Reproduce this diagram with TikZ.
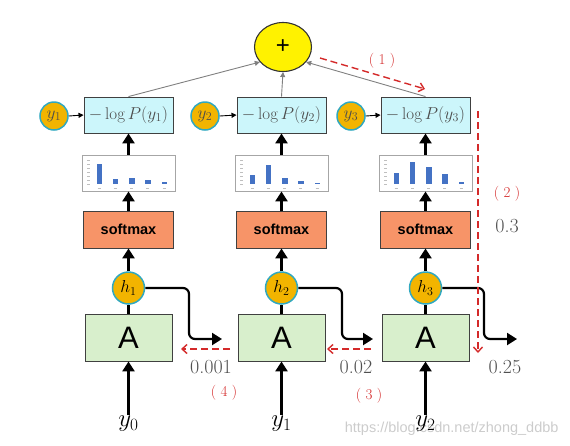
\documentclass[tikz,border=0pt]{standalone}
\usepackage{fontspec}
\newfontfamily\arialfont{Liberation Sans}
\usetikzlibrary{arrows.meta,shapes.geometric}
\definecolor{losscol}{HTML}{CCF6FB}
\definecolor{softcol}{HTML}{F79468}
\definecolor{acol}{HTML}{D8EFCC}
\definecolor{hfill}{HTML}{F2B400}
\definecolor{hborder}{HTML}{30A8C0}
\definecolor{barblue}{HTML}{4472C4}
\definecolor{darkred}{HTML}{D42A2A}
\definecolor{numcol}{HTML}{505050}
\begin{document}
\begin{tikzpicture}[x=1pt,y=-1pt,
  lossbox/.style={draw=black!75,fill=losscol,line width=0.9pt,minimum width=89pt,minimum height=36pt,inner sep=0pt,font=\fontsize{17}{19}\selectfont,text=black!70},
  softbox/.style={draw=black!75,fill=softcol,line width=0.9pt,minimum width=90pt,minimum height=37pt,inner sep=0pt,font=\arialfont\bfseries\fontsize{14.5}{16}\selectfont},
  abox/.style={draw=black!75,fill=acol,line width=0.9pt,minimum width=87pt,minimum height=47pt,inner sep=0pt,font=\arialfont\fontsize{31}{33}\selectfont},
  chartbox/.style={draw=black!35,fill=white,line width=0.9pt,minimum width=93pt,minimum height=36pt,inner sep=0pt},
  hcirc/.style={circle,draw=hborder,fill=hfill,line width=1.5pt,minimum size=32pt,inner sep=0pt,font=\fontsize{17}{19}\selectfont},
  ycirc/.style={circle,draw=hborder,fill=hfill,line width=1.5pt,minimum size=28pt,inner sep=0pt,font=\fontsize{17}{19}\selectfont,text=black!70},
  plusnode/.style={ellipse,draw=black!80,fill=yellow,line width=1.1pt,minimum width=57pt,minimum height=49pt,inner sep=0pt,font=\arialfont\fontsize{24}{26}\selectfont},
  bigarrow/.style={line width=2.6pt,-{Triangle[width=12pt,length=10pt]}},
  recarrow/.style={line width=2.2pt,rounded corners=6pt,-{Triangle[width=12pt,length=10pt]}},
  thinarrow/.style={draw=black!50,line width=0.9pt,-{Triangle[width=5pt,length=5pt]}},
  yarrow/.style={line width=0.9pt,-{Triangle[width=5pt,length=5pt]}},
  reddash/.style={draw=darkred,line width=1.4pt,dash pattern=on 7pt off 4pt,-{Straight Barb[length=5pt,width=9pt]}},
  numlabel/.style={text=numcol,font=\fontsize{20}{22}\selectfont},
  redlabel/.style={text=darkred,font=\fontsize{15}{17}\selectfont},
  ylabel/.style={font=\fontsize{27}{29}\selectfont,inner sep=1pt}
]
\useasboundingbox (0,0) rectangle (570,445);

% watermark
\node[text=black!20,font=\arialfont\fontsize{14.5}{16}\selectfont,anchor=east] (wm) at (562,429) {https://blog.csdn.net/zhong\_ddbb};

% plus
\node[plusnode] (plus) at (283,47) {+};

% loss boxes
\node[lossbox] (l1) at (128.5,115) {$-\log P(y_1)$};
\node[lossbox] (l2) at (281.5,115) {$-\log P(y_2)$};
\node[lossbox] (l3) at (425.5,115) {$-\log P(y_3)$};

% y circles
\node[ycirc] (yc1) at (54,116) {$y_1$};
\node[ycirc] (yc2) at (205,116) {$y_2$};
\node[ycirc] (yc3) at (351,116) {$y_3$};

% charts
\node[chartbox] (ch1) at (128.5,173) {};
\node[chartbox] (ch2) at (281.5,173) {};
\node[chartbox] (ch3) at (425.5,173) {};

% bars
\foreach \cx/\hs in {128.5/{20,5,6,4,2}, 281.5/{9,19,6,3.5,1.5}, 425.5/{11,22,17,10,2}}{
  \foreach \h [count=\i from 0] in \hs {
    \fill[barblue] (\cx-46.5+14.5+16.3*\i,184) rectangle ++(5.5,-\h);
    \draw[black!25,line width=0.4pt] (\cx-46.5+15.5+16.3*\i,188.5) -- ++(3,0);
  }
  \foreach \yy in {160,164,168,172,176,180,184}{
    \draw[black!25,line width=0.4pt] (\cx-46.5+5,\yy) -- ++(2.5,0);
  }
}

% softmax
\node[softbox] (s1) at (128.5,229.5) {softmax};
\node[softbox] (s2) at (281.5,229.5) {softmax};
\node[softbox] (s3) at (425.5,229.5) {softmax};

% h circles
\node[hcirc] (h1) at (128.5,288) {$h_1$};
\node[hcirc] (h2) at (281.5,288) {$h_2$};
\node[hcirc] (h3) at (425.5,288) {$h_3$};

% A boxes
\node[abox] (a1) at (128.5,337.5) {A};
\node[abox] (a2) at (281.5,337.5) {A};
\node[abox] (a3) at (425.5,337.5) {A};

% input labels
\node[ylabel] (y0) at (128.5,424) {$y_0$};
\node[ylabel] (y1) at (281.5,424) {$y_1$};
\node[ylabel] (y2) at (425.5,424) {$y_2$};

% vertical arrows
\foreach \i in {1,2,3}{
  \draw[bigarrow] (y\the\numexpr\i-1\relax.north) -- (a\i.south);
  \draw[line width=2.6pt] (a\i.north) -- (h\i.south);
  \draw[bigarrow] (h\i.north) -- (s\i.south);
  \draw[bigarrow] (s\i.north) -- (ch\i.south);
  \draw[bigarrow] (ch\i.north) -- (l\i.south);
  \draw[yarrow] (yc\i.east) -- (l\i.west);
}

% loss to plus
\draw[thinarrow] (l1.north) -- (plus.213);
\draw[thinarrow] (l2.north) -- (plus.south);
\draw[thinarrow] (l3.north) -- (plus.327);

% recurrent arrows
\coordinate (e1) at (222,339);
\coordinate (e2) at (373,339);
\coordinate (e3) at (517,339);
\draw[recarrow] (h1.east) -- (189,288) -- (189,339) -- (e1);
\draw[recarrow] (h2.east) -- (342,288) -- (342,339) -- (e2);
\draw[recarrow] (h3.east) -- (484,288) -- (484,339) -- (e3);

% red dashed backprop arrows
\coordinate (r1s) at (320,58);
\coordinate (r1e) at (425,89);
\draw[reddash] (r1s) -- (r1e);
\coordinate (r2s) at (478,111);
\coordinate (r2e) at (478,353);
\draw[reddash] (r2s) -- (r2e);
\coordinate (r3s) at (371,349);
\coordinate (r3e) at (327,349);
\draw[reddash] (r3s) -- (r3e);
\coordinate (r4s) at (230,349);
\coordinate (r4e) at (181,349);
\draw[reddash] (r4s) -- (r4e);

% red labels
\node[redlabel] (lab1) at (382,61) {(\hspace{0.3em}1\hspace{0.3em})};
\node[redlabel] (lab2) at (507,194) {(\hspace{0.3em}2\hspace{0.3em})};
\node[redlabel] (lab3) at (369,396) {(\hspace{0.3em}3\hspace{0.3em})};
\node[redlabel] (lab4) at (224,393) {(\hspace{0.3em}4\hspace{0.3em})};

% numbers
\node[numlabel] (n1) at (211,367) {0.001};
\node[numlabel] (n2) at (356,367) {0.02};
\node[numlabel] (n3) at (505,367) {0.25};
\node[numlabel] (n4) at (507,226) {0.3};
\end{tikzpicture}
\end{document}
